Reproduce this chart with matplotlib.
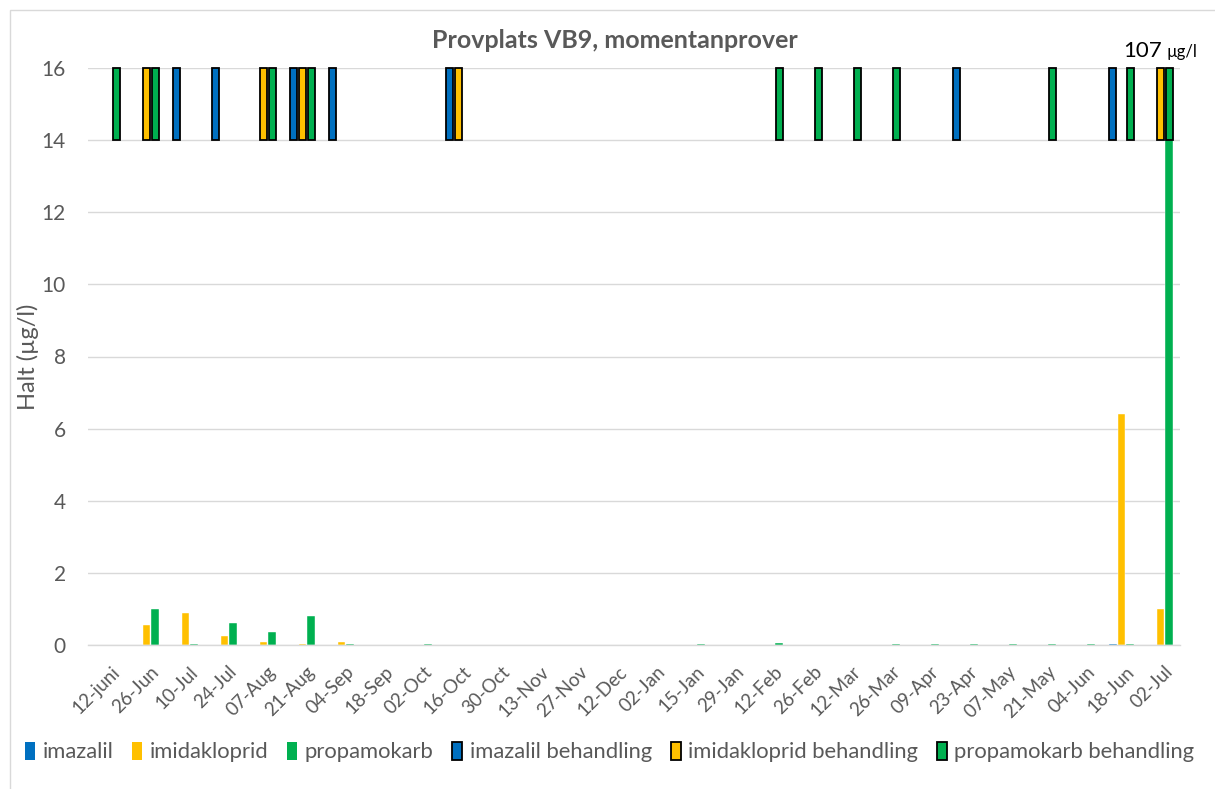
import matplotlib
matplotlib.use("Agg")
import matplotlib.pyplot as plt
from matplotlib.patches import Rectangle, Patch
import numpy as np

plt.rcParams['font.family'] = ['Lato', 'DejaVu Sans']

labels = ["12-juni", "26-Jun", "10-Jul", "24-Jul", "07-Aug", "21-Aug", "04-Sep", "18-Sep",
          "02-Oct", "16-Oct", "30-Oct", "13-Nov", "27-Nov", "12-Dec", "02-Jan", "15-Jan",
          "29-Jan", "12-Feb", "26-Feb", "12-Mar", "26-Mar", "09-Apr", "23-Apr", "07-May",
          "21-May", "04-Jun", "18-Jun", "02-Jul"]

imazalil = [0, 0, 0, 0, 0, 0, 0, 0, 0, 0, 0, 0, 0, 0,
            0, 0, 0, 0, 0, 0, 0, 0, 0, 0, 0, 0, 0.04, 0]
imidakloprid = [0, 0.55, 0.9, 0.25, 0.08, 0.04, 0.08, 0, 0, 0, 0, 0, 0, 0,
                0, 0, 0, 0, 0, 0, 0, 0, 0, 0, 0, 0, 6.4, 1.0]
propamokarb = [0, 1.0, 0.04, 0.6, 0.35, 0.8, 0.04, 0, 0.04, 0, 0, 0, 0, 0,
               0, 0.04, 0, 0.06, 0, 0, 0.04, 0.04, 0.04, 0.04, 0.04, 0.04, 0.04, 107]

imazalil_beh = ["10-Jul", "24-Jul", "21-Aug", "04-Sep", "16-Oct", "23-Apr", "18-Jun"]
imidakloprid_beh = ["26-Jun", "07-Aug", "21-Aug", "16-Oct", "02-Jul"]
propamokarb_beh = ["12-juni", "26-Jun", "07-Aug", "21-Aug", "12-Feb", "26-Feb", "12-Mar",
                   "26-Mar", "21-May", "18-Jun", "02-Jul"]
beh_low, beh_high = 14, 16

C_BLUE, C_YEL, C_GRN = "#0070C0", "#FFC000", "#00B050"
GRAY = "#595959"

W, H = 1215, 789
fig = plt.figure(figsize=(W / 100, H / 100), dpi=100)
ax = fig.add_axes([88 / W, 1 - 645 / H, (1180 - 88) / W, (645 - 68) / H])

x = np.arange(len(labels))
off = 0.225
bw = 0.205
series = [(imazalil, C_BLUE, -off), (imidakloprid, C_YEL, 0.0), (propamokarb, C_GRN, off)]
for vals, col, o in series:
    ax.bar(x + o, vals, width=bw, color=col, edgecolor="white", linewidth=0.3, zorder=2)

beh = [(imazalil_beh, C_BLUE, -off), (imidakloprid_beh, C_YEL, 0.0), (propamokarb_beh, C_GRN, off)]
for lst, col, o in beh:
    idx = np.array([labels.index(l) for l in lst])
    ax.bar(idx + o, [beh_high - beh_low] * len(idx), bottom=beh_low, width=0.19,
           color=col, edgecolor="black", linewidth=1.3, zorder=3, clip_on=False)

ax.set_xlim(-0.5, len(labels) - 0.5)
ax.set_ylim(0, 16)
ax.set_yticks(np.arange(0, 17, 2))
ax.grid(axis="y", color="#D9D9D9", linewidth=1.0, zorder=0)
ax.set_axisbelow(True)
for s in ["top", "right", "left"]:
    ax.spines[s].set_visible(False)
ax.spines["bottom"].set_color("#D9D9D9")
ax.spines["bottom"].set_linewidth(1.0)
ax.tick_params(axis="both", length=0, colors=GRAY)
ax.tick_params(axis="y", labelsize=15, pad=16)

ax.set_xticks(x + 0.09)
ax.set_xticklabels(labels, rotation=45, ha="right", va="top", rotation_mode="anchor",
                   fontsize=13.5, color=GRAY)
ax.tick_params(axis="x", pad=13)

ax.set_ylabel("Halt (µg/l)", fontsize=17, color=GRAY, labelpad=2)

fig.text(615 / W, 1 - 40 / H, "Provplats VB9, momentanprover", ha="center", va="center",
         fontsize=18, fontweight="bold", color=GRAY)

ax.text(27.05, 16.3, "107", ha="right", va="baseline", fontsize=16, color="black", clip_on=False)
ax.text(27.15, 16.3, "µg/l", ha="left", va="baseline", fontsize=12, color="black", clip_on=False)

handles = [
    Patch(facecolor=C_BLUE, edgecolor="none", label="imazalil"),
    Patch(facecolor=C_YEL, edgecolor="none", label="imidakloprid"),
    Patch(facecolor=C_GRN, edgecolor="none", label="propamokarb"),
    Patch(facecolor=C_BLUE, edgecolor="black", linewidth=1.3, label="imazalil behandling"),
    Patch(facecolor=C_YEL, edgecolor="black", linewidth=1.3, label="imidakloprid behandling"),
    Patch(facecolor=C_GRN, edgecolor="black", linewidth=1.3, label="propamokarb behandling"),
]
leg = fig.legend(handles=handles, loc="center", bbox_to_anchor=(610 / W, 1 - 752 / H), ncol=6,
                 frameon=False, fontsize=15.8, handlelength=0.45, handleheight=0.9,
                 handletextpad=0.35, columnspacing=0.85, labelcolor=GRAY)

fig.patches.append(Rectangle((10 / W, -0.1), 1.2, 1 - 10 / H + 0.1, transform=fig.transFigure,
                             fill=False, edgecolor="#D9D9D9", linewidth=1.0))

fig.savefig("out.png", dpi=100)
